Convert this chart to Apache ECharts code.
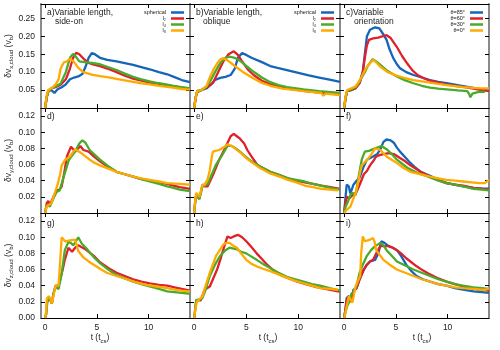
<!DOCTYPE html>
<html><head><meta charset="utf-8">
<script src="https://cdn.jsdelivr.net/npm/echarts@6/dist/echarts.min.js"></script>
<style>html,body{margin:0;padding:0;background:#fff}#c{width:500px;height:350px}</style>
</head><body><div id="c"></div>
<script>
// ---------- data: [t (t_cs), value (v_b)] ----------
const A_SPH=[[0,0],[0.15,0.03],[0.3,0.048],[0.6,0.05],[0.9,0.042],[1.2,0.052],[1.6,0.058],[2.0,0.066],[2.4,0.08],[2.8,0.085],[3.2,0.088],[3.6,0.095],[3.9,0.115],[4.2,0.14],[4.5,0.153],[4.8,0.15],[5.3,0.14],[6.0,0.134],[6.9,0.13],[7.7,0.125],[8.5,0.12],[9.3,0.114],[10.1,0.108],[11.0,0.1],[11.8,0.094],[12.5,0.086],[13.2,0.078],[14,0.072]];
const A_L2=[[0,0],[0.15,0.03],[0.3,0.045],[0.6,0.055],[1.0,0.058],[1.5,0.065],[2.0,0.08],[2.4,0.11],[2.7,0.14],[3.0,0.154],[3.3,0.15],[3.7,0.138],[4.2,0.126],[4.8,0.12],[5.3,0.117],[6.0,0.11],[6.9,0.1],[7.7,0.09],[8.5,0.082],[9.3,0.076],[10.1,0.071],[11.0,0.067],[11.8,0.063],[12.5,0.06],[13.2,0.057],[14,0.054]];
const A_L4=[[0,0],[0.15,0.03],[0.3,0.045],[0.6,0.055],[1.0,0.06],[1.5,0.068],[2.0,0.1],[2.4,0.14],[2.7,0.151],[3.0,0.142],[3.3,0.13],[3.8,0.128],[4.5,0.126],[5.3,0.122],[6.0,0.115],[6.9,0.106],[7.7,0.096],[8.5,0.087],[9.3,0.08],[10.1,0.074],[11.0,0.069],[11.8,0.065],[12.5,0.061],[13.2,0.058],[14,0.055]];
const A_L8=[[0,0],[0.15,0.035],[0.3,0.05],[0.6,0.055],[1.0,0.065],[1.3,0.08],[1.5,0.11],[1.8,0.127],[2.1,0.13],[2.4,0.138],[2.8,0.128],[3.2,0.112],[3.7,0.1],[4.5,0.093],[5.3,0.089],[6.0,0.086],[6.9,0.081],[7.7,0.077],[8.5,0.073],[9.3,0.069],[10.1,0.066],[11.0,0.062],[11.8,0.059],[12.5,0.056],[13.2,0.053],[14,0.051]];

const B_SPH=[[0,0],[0.15,0.03],[0.3,0.048],[0.7,0.05],[1.2,0.055],[1.6,0.065],[2.0,0.078],[2.5,0.084],[3.0,0.087],[3.5,0.092],[3.9,0.11],[4.2,0.14],[4.6,0.153],[5.0,0.148],[5.5,0.14],[6.5,0.128],[7.3,0.117],[8.0,0.112],[9.0,0.105],[10.0,0.098],[11.0,0.091],[12.0,0.085],[13.0,0.079],[14,0.073]];
const B_L2=[[0,0],[0.15,0.03],[0.3,0.045],[0.7,0.05],[1.2,0.058],[1.8,0.07],[2.3,0.1],[2.8,0.13],[3.3,0.15],[3.8,0.158],[4.2,0.148],[4.5,0.134],[5.2,0.106],[5.7,0.092],[6.5,0.076],[7.3,0.066],[8.5,0.056],[10.5,0.048],[12.0,0.043],[13.7,0.039],[14,0.038]];
const B_L4=[[0,0],[0.15,0.03],[0.3,0.045],[0.7,0.05],[1.2,0.06],[1.6,0.078],[2.0,0.1],[2.5,0.125],[3.0,0.14],[3.4,0.143],[3.9,0.14],[4.5,0.13],[5.1,0.115],[5.7,0.101],[6.5,0.085],[7.3,0.072],[8.1,0.064],[8.9,0.058],[10.5,0.052],[12,0.047],[13.7,0.043],[14,0.042]];
const B_L8=[[0,0],[0.15,0.03],[0.3,0.048],[0.7,0.05],[1.2,0.062],[1.5,0.085],[1.9,0.11],[2.2,0.124],[2.5,0.135],[2.8,0.139],[3.2,0.133],[3.6,0.124],[4.0,0.115],[4.8,0.098],[5.7,0.082],[6.5,0.07],[7.3,0.062],[8.5,0.054],[10.5,0.047],[12.2,0.042],[12.4,0.034],[12.6,0.04],[13.7,0.037],[14,0.036]];

const C_85=[[0,0],[0.15,0.03],[0.3,0.048],[0.7,0.05],[1.1,0.055],[1.5,0.07],[1.8,0.1],[2.0,0.15],[2.2,0.2],[2.5,0.218],[3.0,0.225],[3.4,0.222],[3.8,0.205],[4.1,0.19],[4.4,0.163],[4.75,0.139],[5.1,0.122],[5.4,0.111],[6.0,0.1],[6.7,0.092],[7.5,0.085],[8.3,0.078],[9.1,0.073],[9.9,0.069],[10.7,0.065],[11.5,0.061],[12.5,0.056],[13.3,0.051],[14,0.048]];
const C_60=[[0,0],[0.15,0.03],[0.3,0.048],[0.7,0.05],[1.1,0.055],[1.5,0.07],[1.8,0.1],[2.0,0.14],[2.2,0.175],[2.4,0.19],[2.8,0.194],[3.3,0.196],[3.7,0.2],[4.1,0.203],[4.5,0.195],[5.1,0.17],[5.6,0.145],[6.1,0.124],[6.6,0.105],[7.1,0.092],[7.7,0.083],[8.3,0.076],[9.1,0.071],[9.9,0.066],[10.7,0.062],[11.5,0.059],[12.5,0.054],[13.3,0.05],[14,0.048]];
const C_30=[[0,0],[0.15,0.03],[0.3,0.048],[0.7,0.052],[1.1,0.058],[1.4,0.07],[1.7,0.085],[2.0,0.1],[2.3,0.118],[2.76,0.136],[3.1,0.13],[3.5,0.12],[4.2,0.103],[5.1,0.088],[5.9,0.077],[6.7,0.069],[7.5,0.062],[8.3,0.057],[9.1,0.054],[9.9,0.052],[11.0,0.049],[11.9,0.047],[12.1,0.038],[12.2,0.03],[12.4,0.04],[13.0,0.045],[13.6,0.045]];
const C_0=[[0,0],[0.15,0.035],[0.3,0.05],[0.7,0.055],[1.1,0.06],[1.4,0.072],[1.7,0.088],[2.0,0.105],[2.4,0.122],[2.8,0.134],[3.1,0.127],[3.5,0.115],[4.2,0.1],[5.1,0.09],[5.9,0.083],[6.7,0.078],[7.5,0.074],[8.3,0.071],[9.1,0.067],[9.9,0.064],[10.7,0.061],[11.5,0.058],[12.5,0.056],[13.3,0.055],[14,0.055]];

const D_L2=[[0,0],[0.15,0.012],[0.3,0.015],[0.45,0.01],[0.6,0.012],[0.8,0.02],[1.1,0.028],[1.4,0.029],[1.6,0.033],[1.85,0.05],[2.1,0.07],[2.5,0.082],[2.9,0.076],[3.4,0.083],[3.7,0.078],[4.2,0.076],[4.7,0.07],[5.3,0.064],[6.1,0.057],[6.9,0.051],[7.7,0.048],[8.5,0.045],[9.3,0.042],[10.1,0.04],[11.0,0.038],[11.8,0.036],[12.4,0.034],[13.0,0.032],[14,0.03]];
const D_L4=[[0,0],[0.15,0.01],[0.3,0.012],[0.45,0.008],[0.6,0.009],[0.8,0.018],[1.1,0.026],[1.4,0.028],[1.8,0.045],[2.3,0.066],[2.9,0.076],[3.3,0.086],[3.6,0.09],[3.9,0.087],[4.3,0.078],[4.8,0.072],[5.3,0.066],[6.1,0.058],[6.9,0.051],[7.7,0.048],[8.5,0.045],[9.3,0.042],[10.1,0.039],[11.0,0.036],[11.8,0.033],[12.4,0.031],[13.0,0.029],[14,0.027]];
const D_L8=[[0,0],[0.15,0.008],[0.3,0.01],[0.6,0.012],[0.96,0.026],[1.2,0.035],[1.45,0.048],[1.6,0.059],[1.95,0.066],[2.4,0.07],[2.9,0.079],[3.4,0.075],[3.8,0.071],[4.3,0.066],[4.8,0.062],[5.3,0.059],[6.1,0.055],[6.9,0.051],[7.7,0.048],[8.5,0.045],[9.3,0.043],[10.1,0.041],[11.0,0.039],[11.8,0.037],[13.0,0.036],[14,0.035]];

const E_L2=[[0,0],[0.07,0.01],[0.2,0.024],[0.5,0.018],[0.8,0.035],[1.0,0.033],[1.3,0.033],[1.8,0.047],[2.4,0.066],[3.0,0.081],[3.5,0.095],[3.8,0.098],[4.1,0.095],[4.4,0.092],[4.8,0.086],[5.1,0.078],[5.5,0.07],[6.1,0.059],[6.7,0.055],[7.3,0.051],[8.2,0.047],[9.0,0.043],[9.8,0.04],[10.6,0.038],[11.4,0.036],[12.2,0.034],[13.1,0.032],[14,0.03]];
const E_L4=[[0,0],[0.07,0.01],[0.2,0.022],[0.5,0.017],[0.8,0.033],[1.0,0.034],[1.3,0.036],[1.7,0.048],[2.1,0.06],[2.7,0.072],[3.2,0.083],[3.6,0.083],[4.0,0.08],[4.4,0.076],[5.0,0.069],[5.5,0.064],[6.4,0.057],[7.3,0.051],[8.2,0.047],[9.0,0.043],[9.8,0.041],[10.6,0.039],[11.4,0.036],[12.2,0.034],[13.1,0.031],[14,0.029]];
const E_L8=[[0,0],[0.07,0.012],[0.2,0.025],[0.5,0.02],[0.8,0.035],[1.0,0.035],[1.3,0.042],[1.5,0.053],[1.7,0.07],[1.8,0.076],[2.4,0.078],[2.8,0.081],[3.2,0.085],[3.6,0.083],[4.0,0.079],[4.4,0.075],[5.0,0.068],[5.5,0.063],[6.4,0.055],[7.3,0.049],[8.2,0.045],[9.0,0.041],[9.8,0.038],[10.6,0.034],[11.4,0.032],[12.2,0.03],[13.0,0.029],[13.8,0.028]];

const F_85=[[0,0],[0.1,0.015],[0.25,0.035],[0.45,0.033],[0.6,0.024],[0.9,0.035],[1.2,0.04],[1.5,0.044],[1.9,0.058],[2.2,0.066],[2.8,0.07],[3.2,0.073],[3.5,0.079],[3.8,0.088],[4.1,0.091],[4.5,0.09],[4.8,0.087],[5.1,0.081],[5.4,0.076],[5.9,0.069],[6.4,0.062],[6.9,0.056],[7.4,0.051],[8.3,0.046],[9.1,0.041],[9.9,0.037],[10.7,0.035],[11.5,0.033],[12.5,0.031],[13.3,0.03],[14,0.03]];
const F_60=[[0,0],[0.1,0.01],[0.25,0.02],[0.5,0.018],[0.8,0.022],[1.2,0.026],[1.5,0.035],[1.9,0.048],[2.2,0.052],[2.5,0.059],[2.8,0.064],[3.1,0.07],[3.5,0.072],[3.8,0.073],[4.3,0.074],[4.8,0.073],[5.4,0.068],[5.9,0.064],[6.4,0.059],[6.9,0.055],[7.4,0.051],[8.3,0.045],[9.1,0.041],[9.9,0.037],[10.7,0.035],[11.5,0.034],[12.5,0.031],[13.3,0.03],[14,0.029]];
const F_30=[[0,0],[0.15,0.008],[0.3,0.012],[0.6,0.022],[0.8,0.025],[1.1,0.022],[1.4,0.045],[1.7,0.066],[2.0,0.076],[2.4,0.077],[2.8,0.079],[3.2,0.081],[3.6,0.083],[4.1,0.079],[4.6,0.073],[5.1,0.066],[5.6,0.061],[6.1,0.056],[7.0,0.05],[7.7,0.047],[8.3,0.044],[9.1,0.04],[9.9,0.037],[10.7,0.035],[11.5,0.033],[12.5,0.03],[13.3,0.029],[14,0.028]];
const F_0=[[0,0],[0.25,0.004],[0.6,0.008],[0.9,0.018],[1.2,0.028],[1.45,0.045],[1.7,0.059],[2.0,0.063],[2.3,0.067],[2.6,0.072],[3.0,0.08],[3.5,0.078],[4.1,0.07],[4.6,0.066],[5.1,0.062],[5.7,0.056],[6.4,0.051],[7.3,0.048],[8.3,0.045],[9.1,0.043],[9.9,0.041],[10.7,0.04],[11.5,0.039],[12.3,0.038],[13.1,0.037],[13.6,0.037],[14,0.041]];

const G_L2=[[0,0],[0.1,0.005],[0.2,0.02],[0.35,0.025],[0.5,0.022],[0.65,0.018],[0.8,0.03],[1.0,0.04],[1.3,0.04],[1.45,0.042],[1.7,0.06],[1.9,0.072],[2.25,0.087],[2.6,0.082],[2.9,0.087],[3.2,0.09],[3.5,0.088],[3.9,0.085],[4.3,0.081],[4.7,0.077],[5.3,0.069],[6.1,0.062],[6.9,0.056],[7.7,0.052],[8.5,0.048],[9.3,0.045],[10.1,0.043],[11.0,0.041],[11.8,0.04],[12.5,0.038],[13.2,0.036],[14,0.034]];
const G_L4=[[0,0],[0.1,0.005],[0.2,0.02],[0.35,0.025],[0.5,0.022],[0.65,0.018],[0.8,0.03],[1.0,0.038],[1.3,0.036],[1.6,0.055],[1.9,0.084],[2.25,0.094],[2.5,0.093],[2.7,0.09],[2.95,0.094],[3.2,0.1],[3.55,0.092],[4.0,0.086],[4.4,0.08],[4.8,0.074],[5.3,0.068],[6.1,0.06],[6.9,0.053],[7.7,0.049],[8.5,0.045],[9.3,0.042],[10.1,0.039],[11.0,0.036],[11.8,0.033],[12.5,0.032],[13.2,0.031],[14,0.03]];
const G_L8=[[0,0],[0.1,0.008],[0.16,0.024],[0.35,0.027],[0.5,0.024],[0.65,0.018],[0.85,0.03],[1.0,0.04],[1.3,0.04],[1.45,0.07],[1.6,0.1],[1.93,0.095],[2.4,0.096],[2.9,0.097],[3.05,0.09],[3.2,0.083],[3.7,0.075],[4.2,0.07],[4.7,0.066],[5.3,0.061],[5.95,0.056],[6.9,0.052],[7.9,0.048],[8.8,0.044],[9.8,0.041],[10.8,0.039],[11.8,0.037],[12.5,0.035],[13.2,0.034],[14,0.033]];

const H_L2=[[0,0],[0.05,0.005],[0.2,0.022],[0.65,0.022],[1.0,0.035],[1.5,0.039],[1.8,0.048],[2.2,0.06],[2.5,0.072],[2.8,0.085],[3.2,0.101],[3.5,0.099],[3.8,0.101],[4.2,0.103],[4.6,0.1],[5.0,0.095],[5.5,0.088],[6.0,0.08],[6.5,0.073],[7.0,0.066],[7.6,0.059],[8.3,0.053],[9.1,0.049],[9.9,0.045],[10.7,0.042],[11.5,0.039],[12.6,0.036],[13.8,0.033],[14,0.033]];
const H_L4=[[0,0],[0.05,0.005],[0.2,0.022],[0.5,0.023],[0.8,0.025],[1.1,0.035],[1.5,0.052],[2.0,0.066],[2.5,0.077],[3.0,0.084],[3.4,0.087],[4.1,0.085],[4.5,0.082],[5.0,0.08],[5.5,0.076],[6.0,0.072],[6.6,0.067],[7.3,0.062],[8.1,0.056],[8.9,0.051],[9.7,0.048],[10.5,0.045],[11.3,0.042],[12.1,0.04],[13.0,0.037],[14,0.034]];
const H_L8=[[0,0],[0.1,0.01],[0.25,0.02],[0.5,0.023],[0.8,0.027],[1.1,0.04],[1.5,0.056],[2.1,0.077],[2.5,0.085],[2.8,0.091],[3.1,0.093],[3.4,0.093],[3.7,0.09],[4.1,0.087],[4.5,0.08],[5.0,0.072],[5.5,0.067],[6.0,0.064],[6.6,0.061],[7.3,0.058],[8.1,0.054],[8.9,0.05],[9.7,0.046],[10.5,0.043],[11.3,0.04],[12.1,0.037],[13.0,0.036],[13.8,0.035]];

const I_85=[[0,0],[0.1,0.008],[0.25,0.025],[0.45,0.027],[0.7,0.02],[0.9,0.035],[1.2,0.037],[1.5,0.048],[1.9,0.06],[2.2,0.066],[2.5,0.07],[3.0,0.072],[3.3,0.08],[3.6,0.095],[3.9,0.093],[4.3,0.089],[4.7,0.087],[5.1,0.084],[5.5,0.077],[6.0,0.066],[6.5,0.058],[7.0,0.052],[7.6,0.048],[8.3,0.045],[9.1,0.042],[9.9,0.04],[10.7,0.037],[11.5,0.035],[12.5,0.033],[13.3,0.032],[14,0.031]];
const I_60=[[0,0],[0.1,0.008],[0.25,0.022],[0.45,0.027],[0.7,0.02],[0.9,0.033],[1.2,0.037],[1.5,0.048],[1.9,0.06],[2.2,0.066],[2.5,0.07],[2.8,0.072],[3.1,0.08],[3.5,0.089],[3.9,0.089],[4.3,0.089],[4.7,0.087],[5.1,0.084],[5.5,0.08],[6.0,0.074],[6.5,0.069],[7.0,0.064],[7.6,0.059],[8.3,0.054],[9.1,0.049],[9.9,0.045],[10.7,0.042],[11.5,0.039],[12.5,0.036],[13.3,0.035],[14,0.034]];
const I_30=[[0,0],[0.1,0.006],[0.3,0.015],[0.5,0.02],[0.7,0.03],[0.9,0.032],[1.2,0.04],[1.5,0.056],[1.8,0.066],[2.2,0.077],[2.6,0.084],[3.0,0.089],[3.5,0.093],[3.8,0.09],[4.1,0.084],[4.6,0.077],[5.1,0.07],[5.9,0.065],[6.7,0.06],[7.5,0.056],[8.3,0.052],[9.1,0.048],[9.9,0.045],[10.7,0.042],[11.5,0.04],[12.5,0.038],[13.3,0.037],[14,0.036]];
const I_0=[[0,0],[0.1,0.005],[0.45,0.027],[0.8,0.019],[1.1,0.039],[1.3,0.045],[1.55,0.052],[1.65,0.08],[1.8,0.101],[2.0,0.095],[2.5,0.097],[2.8,0.099],[2.95,0.094],[3.1,0.084],[3.5,0.077],[3.8,0.072],[4.4,0.066],[5.1,0.06],[5.9,0.056],[6.7,0.052],[7.5,0.048],[8.3,0.045],[9.1,0.042],[9.9,0.04],[10.7,0.038],[11.5,0.037],[12.5,0.036],[13.3,0.035],[13.7,0.035],[14,0.037]];

// tick values / labels
const X_TICKS=[0,5,10];
const Y_TICKS_ROW1=[0.05,0.10,0.15,0.20,0.25];
const Y_TICKS_ROW23=[0.02,0.04,0.06,0.08,0.10,0.12];
const Y_LABELS_ROW3=[0,0.02,0.04,0.06,0.08,0.10,0.12];
const NAMES_LEN=['spherical','l₂','l₄','l₈'];
const NAMES_ANG=['θ=85°','θ=60°','θ=30°','θ=0°'];
const PANEL_TITLES=['a)Variable length,','b)Variable length,','c)Variable','d)','e)','f)','g)','h)','i)'];
const PANEL_SUB=['side-on','oblique','orientation','','','','','',''];
const ROW_COMP=['x','y','z'];

// ---------- layout ----------
const COLORS=['#1466b8','#e0202a','#4aaa2a','#ffaa00'];
const COL_L=[41,190,340], COL_W=[149,150,149];
const ROW_T=[4,108,213], ROW_H=[104,105,105];
const FONT='Liberation Sans, Arial, sans-serif';

const PANELS=[
  [[0,A_SPH],[1,A_L2],[2,A_L4],[3,A_L8]],
  [[0,B_SPH],[1,B_L2],[2,B_L4],[3,B_L8]],
  [[0,C_85],[1,C_60],[2,C_30],[3,C_0]],
  [[1,D_L2],[2,D_L4],[3,D_L8]],
  [[1,E_L2],[2,E_L4],[3,E_L8]],
  [[0,F_85],[1,F_60],[2,F_30],[3,F_0]],
  [[1,G_L2],[2,G_L4],[3,G_L8]],
  [[1,H_L2],[2,H_L4],[3,H_L8]],
  [[0,I_85],[1,I_60],[2,I_30],[3,I_0]]
];

const grid=[],xAxis=[],yAxis=[],series=[],legend=[],graphic=[];
for(let p=0;p<9;p++){
  const r=Math.floor(p/3), c=p%3;
  grid.push({left:COL_L[c],top:ROW_T[r],width:COL_W[c],height:ROW_H[r],containLabel:false});
  const xBase={gridIndex:p,type:'value',min:-0.4,max:14,splitLine:{show:false},
    axisLine:{show:true,onZero:false,lineStyle:{color:'#000',width:1}},
    axisTick:{show:true,inside:true,length:4,customValues:X_TICKS,lineStyle:{color:'#000',width:1}}};
  xAxis.push(Object.assign({},xBase,{position:'bottom',
    axisLabel:{show:r===2,customValues:X_TICKS,fontSize:8.5,fontFamily:FONT,color:'#222',margin:5}}));
  xAxis.push(Object.assign({},xBase,{position:'top',axisLabel:{show:false}}));
  const ymax=r===0?0.29:0.13;
  const yt=r===0?Y_TICKS_ROW1:Y_TICKS_ROW23;
  const yl=r===0?Y_TICKS_ROW1:(r===1?Y_TICKS_ROW23:Y_LABELS_ROW3);
  const yBase={gridIndex:p,type:'value',min:0,max:ymax,splitLine:{show:false},
    axisLine:{show:true,onZero:false,lineStyle:{color:'#8a8a8a',width:2}},
    axisTick:{show:true,inside:true,length:4,customValues:yt,lineStyle:{color:'#000',width:1}}};
  const yl0=Object.assign({},yBase,{position:'left',
    axisLabel:{show:c===0,customValues:yl,formatter:v=>v.toFixed(2),fontSize:8.5,fontFamily:FONT,color:'#222',margin:6}});
  if(c===0){
    yl0.name='{a|δv}{s|'+ROW_COMP[r]+',cloud}{a| (v}{s|b}{a|)}';
    yl0.nameLocation='middle'; yl0.nameGap=26; yl0.nameRotate=90;
    yl0.nameTextStyle={fontFamily:FONT,color:'#222',rich:{a:{fontSize:8.5,fontFamily:FONT,color:'#222',lineHeight:12},s:{fontSize:6,fontFamily:FONT,color:'#222',verticalAlign:'bottom',lineHeight:7}}};
  }
  yAxis.push(yl0);
  yAxis.push(Object.assign({},yBase,{position:'right',axisLabel:{show:false}}));
  const names=(c===2)?NAMES_ANG:NAMES_LEN;
  PANELS[p].forEach(([k,data])=>{
    series.push({type:'line',name:names[k],xAxisIndex:2*p,yAxisIndex:2*p,data:data,
      showSymbol:false,symbol:'none',clip:true,animation:false,
      lineStyle:{width:2.3,color:COLORS[k]},itemStyle:{color:COLORS[k]}});
  });
  // panel captions
  graphic.push({type:'text',x:COL_L[c]+6,y:ROW_T[r]+(r===0?4.5:(r===1?4.5:6.5)),
    style:{text:PANEL_TITLES[p],font:'8.5px '+FONT,fill:'#222'}});
  if(PANEL_SUB[p]) graphic.push({type:'text',x:COL_L[c]+(c===1?13:14),y:ROW_T[r]+13,
    style:{text:PANEL_SUB[p],font:'8.5px '+FONT,fill:'#222'}});
}
// legends for top row
[0,1,2].forEach(c=>{
  legend.push({orient:'vertical',right:500-(COL_L[c]+COL_W[c]-6),top:9.5,align:'right',
    itemWidth:13,itemHeight:2.5,itemGap:0,icon:'rect',selectedMode:false,padding:0,
    textStyle:{fontSize:5.5,fontFamily:FONT,color:'#222',lineHeight:4.6,padding:[0,0,0,0]},
    data:c===2?NAMES_ANG:NAMES_LEN});
});
// x-axis titles
const XT_X=[100,268,422];
XT_X.forEach(x=>{
  graphic.push({type:'text',x:x,y:338,
    style:{text:'{a|t (t}{s|cs}{a|)}',align:'center',verticalAlign:'middle',
      rich:{a:{fontSize:8.5,fontFamily:FONT,fill:'#222',lineHeight:12},s:{fontSize:6,fontFamily:FONT,fill:'#222',verticalAlign:'bottom',lineHeight:7}}}});
});

const chart=echarts.init(document.getElementById('c'),null,{renderer:'canvas'});
chart.setOption({animation:false,backgroundColor:'#fff',grid,xAxis,yAxis,series,legend,graphic});
</script></body></html>
